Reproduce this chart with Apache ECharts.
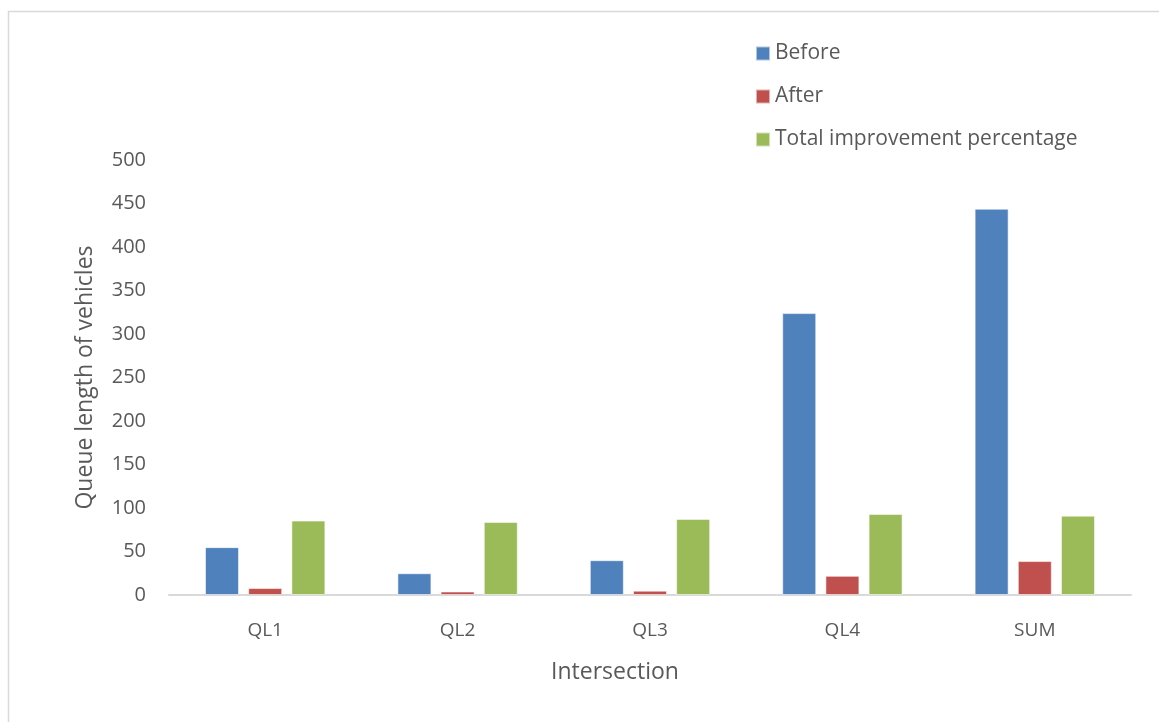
<!DOCTYPE html>
<html>
<head>
<meta charset="utf-8">
<script src="https://cdn.jsdelivr.net/npm/echarts@6/dist/echarts.min.js"></script>
<style>
  html, body { margin: 0; padding: 0; background: #fff; }
  #chart { width: 1159px; height: 722px; }
</style>
</head>
<body>
<div id="chart"></div>
<script>
// Intersections and queue lengths
const categories = ['QL1', 'QL2', 'QL3', 'QL4', 'SUM'];
const beforeValues = [55, 25, 40, 324, 444];
const afterValues = [8, 4, 5, 22, 39];
const improvementValues = [85.5, 84, 87.5, 93.2, 91.2];
const yTicks = { min: 0, max: 500, interval: 50 };

const FONT = '"Open Sans", "Noto Sans", sans-serif';
const TEXT = '#595959';

const chart = echarts.init(document.getElementById('chart'), null, { renderer: 'canvas' });

function barSeries(name, data, color) {
  return {
    name: name,
    type: 'bar',
    data: data,
    barWidth: 34,
    barGap: '27%',
    itemStyle: { color: color, borderColor: 'rgba(255,255,255,0.55)', borderWidth: 1 },
    emphasis: { disabled: true }
  };
}

chart.setOption({
  backgroundColor: '#ffffff',
  animation: false,
  textStyle: { fontFamily: FONT },
  graphic: [{
    type: 'rect',
    shape: { x: 8.5, y: 11.5, width: 1200, height: 760 },
    style: { fill: 'none', stroke: '#d9d9d9', lineWidth: 1.5 },
    silent: true
  }],
  legend: {
    orient: 'vertical',
    left: 750,
    top: 38,
    itemWidth: 14,
    itemHeight: 14,
    itemGap: 22,
    icon: 'rect',
    textStyle: { color: TEXT, fontSize: 21, fontFamily: FONT },
    data: ['Before', 'After', 'Total improvement percentage']
  },
  grid: { left: 169, right: 28, top: 160, bottom: 127, containLabel: false },
  xAxis: {
    type: 'category',
    data: categories,
    name: 'Intersection',
    nameLocation: 'middle',
    nameGap: 66,
    nameTextStyle: { color: TEXT, fontSize: 23, fontFamily: FONT, padding: [0, 70, 0, 0] },
    axisLine: { show: true, lineStyle: { color: '#d9d9d9', width: 2 } },
    axisTick: { show: false },
    axisLabel: { color: TEXT, fontSize: 19, margin: 26, fontFamily: FONT }
  },
  yAxis: {
    type: 'value',
    min: yTicks.min,
    max: yTicks.max,
    interval: yTicks.interval,
    name: 'Queue length of vehicles',
    nameLocation: 'middle',
    nameRotate: 90,
    nameGap: 72,
    nameTextStyle: { color: TEXT, fontSize: 23, fontFamily: FONT },
    axisLine: { show: false },
    axisTick: { show: false },
    splitLine: { show: false },
    axisLabel: { color: TEXT, fontSize: 20, margin: 23, fontFamily: FONT }
  },
  series: [
    barSeries('Before', beforeValues, '#4F81BD'),
    barSeries('After', afterValues, '#C0504D'),
    barSeries('Total improvement percentage', improvementValues, '#9BBB59')
  ]
});
</script>
</body>
</html>
